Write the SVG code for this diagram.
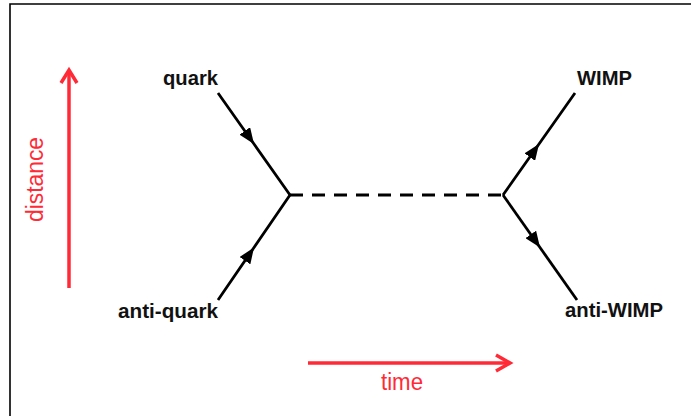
<svg xmlns="http://www.w3.org/2000/svg" width="691" height="416" viewBox="0 0 691 416">
<style>
.lbl{font-family:"Liberation Sans",Arial,sans-serif;font-weight:bold;font-size:21px;fill:#111}
.axl{font-family:"Liberation Sans",Arial,sans-serif;font-size:23px;fill:#ff2a36}
.fl{stroke:#000;stroke-width:2.8;fill:none;marker-mid:url(#tri)}
.ax{stroke:#ff2a36;stroke-width:3.5;fill:none;stroke-linecap:butt}
</style>
<defs>
<marker id="tri" markerUnits="userSpaceOnUse" markerWidth="17" markerHeight="13" refX="16" refY="6.5" orient="auto" viewBox="0 0 17 13">
<path d="M0,0 L16,6.5 L0,13 z" fill="#000"/>
</marker>
</defs>
<rect x="0" y="0" width="691" height="416" fill="#fff"/>
<path d="M10,420 V4 H700" fill="none" stroke="#000" stroke-width="1.6"/>
<g id="connectors">
<path class="fl" d="M218,93 L254,144 L290,195"/>
<path class="fl" d="M218,300 L254,247.5 L290,195"/>
<path class="fl" d="M503,195 L539,144 L575,93"/>
<path class="fl" d="M503,195 L540,247.5 L577,300"/>
<line x1="290" y1="195" x2="503" y2="195" stroke="#000" stroke-width="2.8" stroke-dasharray="13 9"/>
</g>
<g id="quark"><text class="lbl" x="163" y="85" textLength="55" lengthAdjust="spacingAndGlyphs">quark</text></g>
<g id="anti-quark"><text class="lbl" x="118" y="318" textLength="100" lengthAdjust="spacingAndGlyphs">anti-quark</text></g>
<g id="wimp"><text class="lbl" x="577" y="85" textLength="55" lengthAdjust="spacingAndGlyphs">WIMP</text></g>
<g id="anti-wimp"><text class="lbl" x="565" y="317" textLength="98" lengthAdjust="spacingAndGlyphs">anti-WIMP</text></g>
<g id="distance-axis">
<line class="ax" x1="69" y1="288" x2="69" y2="71"/>
<path class="ax" d="M61,83 L69,70 L77,83"/>
<text class="axl" transform="translate(43,179.5) rotate(-90)" text-anchor="middle" textLength="85" lengthAdjust="spacingAndGlyphs">distance</text>
</g>
<g id="time-axis">
<line class="ax" x1="308" y1="363" x2="509" y2="363"/>
<path class="ax" d="M496,355 L510,363 L496,371"/>
<text class="axl" x="402" y="390" text-anchor="middle" textLength="42" lengthAdjust="spacingAndGlyphs">time</text>
</g>
</svg>
